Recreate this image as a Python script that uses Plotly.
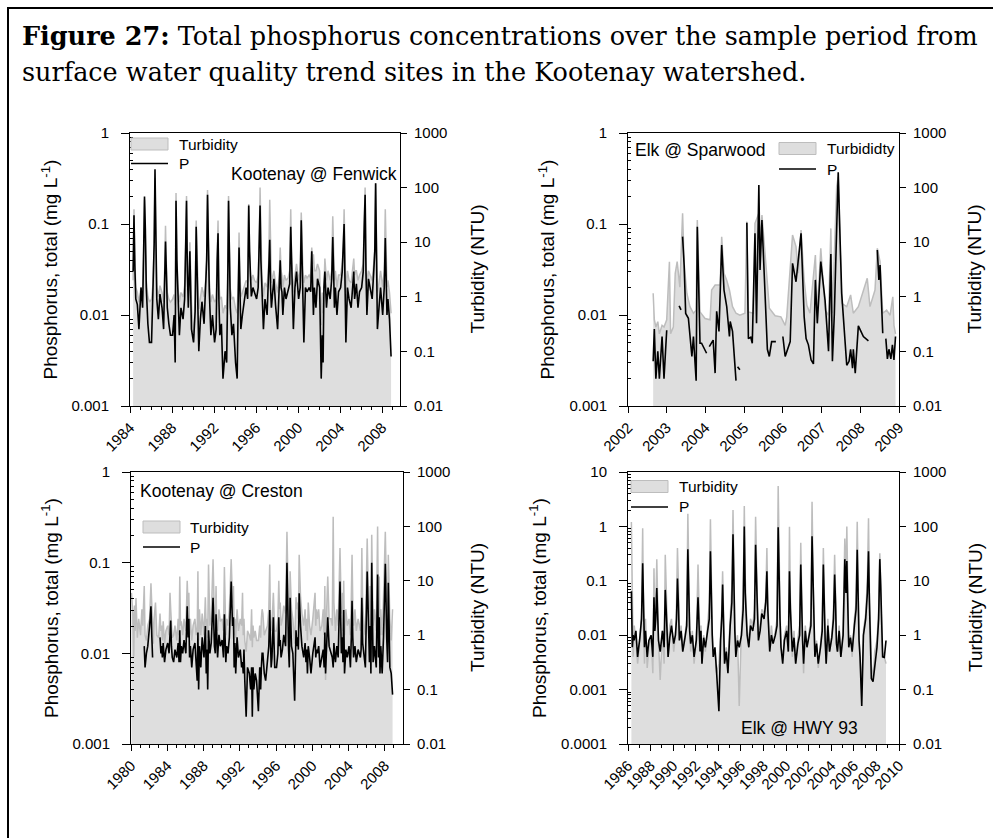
import math
import plotly.graph_objects as go

W, H = 993, 838

# ---------------------------------------------------------------- data
SAMPLE_FRACTIONS = [0.05, 0.20, 0.30, 0.38, 0.46, 0.55, 0.70, 0.85]

# --- Kootenay @ Fenwick (8 samples per year, 1984-2008)
fenwick_years = list(range(1984, 2009))
fenwick_p = [
    None, None, 0.030, 0.125, 0.035, 0.015, 0.013, 0.007,
    0.020, 0.012, 0.050, 0.200, 0.090, 0.020, 0.008, 0.005,
    0.005, 0.020, 0.060, 0.400, 0.040, 0.015, 0.009, 0.017,
    0.012, 0.007, 0.025, 0.064, 0.030, 0.012, 0.008, 0.006,
    0.006, 0.010, 0.003, 0.180, 0.040, 0.015, 0.006, 0.012,
    0.009, 0.015, 0.050, 0.180, 0.030, 0.012, 0.050, 0.007,
    0.005, 0.011, 0.093, 0.030, 0.018, 0.004, 0.009, 0.014,
    0.008, 0.020, 0.040, 0.210, 0.060, 0.018, 0.006, 0.010,
    0.005, 0.007, 0.040, 0.079, 0.015, 0.006, 0.008, 0.002,
    0.004, 0.003, 0.020, 0.180, 0.050, 0.012, 0.006, 0.008,
    0.003, 0.002, 0.015, 0.055, 0.020, 0.007, 0.010, 0.013,
    0.020, 0.015, 0.160, 0.050, 0.020, 0.016, 0.020, 0.018,
    0.015, 0.020, 0.060, 0.160, 0.040, 0.020, 0.007, 0.015,
    0.010, 0.030, 0.067, 0.020, 0.012, 0.016, 0.025, 0.013,
    0.007, 0.020, 0.040, 0.020, 0.018, 0.010, 0.020, 0.015,
    0.018, 0.022, 0.093, 0.030, 0.016, 0.007, 0.020, 0.030,
    0.015, 0.020, 0.110, 0.040, 0.020, 0.005, 0.020, 0.018,
    0.020, 0.018, 0.050, 0.015, 0.010, 0.020, 0.012, 0.025,
    0.020, 0.002, 0.006, 0.003, 0.020, 0.030, 0.012, 0.020,
    0.015, 0.025, 0.072, 0.030, 0.012, 0.020, 0.010, 0.018,
    0.020, 0.030, 0.050, 0.100, 0.025, 0.005, 0.020, 0.015,
    0.012, 0.020, 0.030, 0.015, 0.020, 0.022, 0.012, 0.018,
    0.020, 0.030, 0.100, 0.210, 0.030, 0.010, 0.025, 0.020,
    0.015, 0.030, 0.050, 0.280, 0.020, 0.007, 0.012, 0.020,
    0.010, 0.020, 0.070, 0.025, 0.010, 0.015, 0.009, 0.0035,
]
fenwick_turb = [
    None, None, 2.0, 40, 5.0, 1.5, 1.2, 0.8,
    1.5, 1.0, 8.0, 60, 12, 2.0, 1.0, 0.8,
    0.9, 1.8, 10, 150, 8.0, 1.5, 1.0, 1.6,
    1.2, 0.8, 3.0, 20, 4.0, 1.2, 0.9, 0.8,
    0.9, 1.1, 0.7, 80, 6.0, 1.6, 0.8, 1.2,
    1.0, 1.6, 8.0, 70, 4.0, 1.3, 10, 0.8,
    0.15, 1.2, 25, 4.0, 2.0, 0.6, 1.0, 1.5,
    1.0, 2.0, 6.0, 90, 10, 2.0, 0.8, 1.1,
    0.8, 0.9, 6.0, 25, 2.0, 0.9, 1.0, 0.5,
    0.7, 0.6, 3.0, 70, 8.0, 1.4, 0.9, 1.0,
    0.6, 0.5, 2.0, 15, 3.0, 1.0, 1.2, 1.5,
    2.0, 1.8, 50, 8.0, 2.5, 2.0, 2.5, 2.0,
    1.8, 2.5, 10, 100, 6.0, 2.5, 1.0, 1.8,
    1.5, 4.0, 60, 3.0, 1.8, 2.2, 3.0, 1.8,
    1.2, 2.5, 8.0, 3.0, 2.5, 1.5, 2.5, 2.0,
    2.2, 3.0, 40, 5.0, 2.0, 1.2, 2.5, 4.0,
    2.0, 3.0, 35, 6.0, 3.0, 1.8, 2.5, 2.2,
    2.5, 2.2, 8.0, 4.0, 6.0, 3.0, 3.0, 4.0,
    3.0, 0.3, 1.2, 0.5, 3.0, 5.0, 2.0, 3.0,
    2.0, 3.0, 30, 5.0, 2.0, 3.0, 1.5, 2.5,
    2.5, 4.0, 8.0, 40, 4.0, 1.2, 3.0, 2.0,
    1.8, 3.0, 5.0, 2.5, 3.0, 3.0, 2.0, 2.5,
    3.0, 4.0, 25, 100, 5.0, 1.6, 3.0, 2.5,
    2.0, 4.0, 8.0, 120, 3.0, 1.2, 1.8, 3.0,
    1.5, 3.0, 40, 4.0, 1.5, 2.0, 1.2, 0.5,
]

# --- Elk @ Sparwood (irregular sample dates, gaps = None)
sparwood_p_dates = [
    2002.65, 2002.68, 2002.72, 2002.77, 2002.81, 2002.88, 2002.93, 2003.00, 2003.15,
    2003.32, 2003.37, 2003.39,
    2003.41, 2003.45, 2003.49, 2003.56, 2003.65, 2003.69, 2003.76, 2003.79, 2003.86,
    2003.90, 2004.03, 2004.06,
    2004.10, 2004.20, 2004.25, 2004.29, 2004.35, 2004.42, 2004.48, 2004.55, 2004.62,
    2004.64, 2004.70, 2004.79, 2004.81,
    2004.83, 2004.89, 2004.98,
    2005.07, 2005.11, 2005.17, 2005.21, 2005.28, 2005.32, 2005.38, 2005.41, 2005.46,
    2005.54, 2005.60, 2005.65, 2005.71, 2005.82, 2005.91,
    2006.00, 2006.06, 2006.19, 2006.25, 2006.34, 2006.47, 2006.55, 2006.60, 2006.66,
    2006.73, 2006.79, 2006.84, 2006.89, 2006.98, 2007.09, 2007.18, 2007.24, 2007.28,
    2007.33, 2007.43, 2007.48, 2007.52, 2007.65, 2007.71, 2007.75, 2007.80, 2007.82,
    2007.87, 2007.95, 2008.08, 2008.21, 2008.30,
    2008.44, 2008.48, 2008.51, 2008.58, 2008.62,
    2008.66, 2008.70, 2008.74, 2008.79, 2008.83, 2008.87, 2008.91,
]
sparwood_p = [
    0.0031, 0.0070, 0.0020, 0.0040, 0.0020, 0.0058, 0.0020, 0.0068, None,
    0.0126, 0.0114, None,
    0.0726, 0.0354, 0.0104, 0.0092, 0.0035, 0.0058, 0.0019, 0.0935, 0.0049,
    0.0049, 0.0038, None,
    0.0045, 0.0053, 0.0023, 0.0110, 0.0066, 0.0588, 0.0188, 0.0124, 0.0058,
    0.0085, 0.0066, 0.0019, None,
    0.0027, 0.0025, None,
    0.1035, 0.0055, 0.0057, 0.0049, 0.0789, 0.0081, 0.268, 0.0313, 0.1106,
    0.0173, 0.0042, 0.0035, 0.0051, 0.0051, None,
    0.0058, 0.0035, 0.0051, 0.0370, 0.0232, 0.0789, 0.0096, 0.0055, 0.0047,
    0.0032, 0.0029, 0.0243, 0.0081, 0.0386, 0.0146, 0.0040, 0.0468, 0.0031,
    0.0104, 0.370, 0.0640, 0.0173, 0.0028, 0.0031, 0.0042, 0.0026, 0.0042,
    0.0023, 0.0076, 0.0058, 0.0052, None,
    0.0518, 0.0243, 0.0354, 0.0063, None,
    0.0055, 0.0033, 0.0042, 0.0033, 0.0047, 0.0032, 0.0058,
]
sparwood_turb_dates = [
    2002.65, 2002.68, 2002.72, 2002.77, 2002.81, 2002.88, 2002.93, 2003.00, 2003.07,
    2003.10, 2003.17, 2003.22, 2003.27, 2003.32, 2003.34, 2003.41, 2003.45, 2003.52,
    2003.60, 2003.69, 2003.76, 2003.79, 2003.86, 2003.99, 2004.12, 2004.16, 2004.25,
    2004.38, 2004.42, 2004.48, 2004.55, 2004.62, 2004.70, 2004.79, 2004.89, 2005.02,
    2005.07, 2005.11, 2005.24, 2005.28, 2005.38, 2005.41, 2005.46, 2005.58, 2005.65,
    2005.80, 2005.95, 2006.06, 2006.10, 2006.25, 2006.34, 2006.40, 2006.47, 2006.55,
    2006.62, 2006.70, 2006.84, 2006.89, 2006.98, 2007.09, 2007.18, 2007.24, 2007.28,
    2007.39, 2007.43, 2007.52, 2007.65, 2007.75, 2007.82, 2007.95, 2008.08, 2008.18,
    2008.25, 2008.38, 2008.44, 2008.51, 2008.58, 2008.68, 2008.77, 2008.84, 2008.87,
    2008.91,
]
sparwood_turb = [
    1.16, 0.38, 0.28, 0.35, 0.21, 0.30, 0.28, 0.38, 4.4,
    0.21, 0.28, 2.7, 4.4, 1.6, 1.5, 34, 4.1, 1.16,
    0.66, 0.50, 0.57, 25.5, 0.53, 0.40, 0.38, 1.33, 1.64,
    1.64, 12.6, 2.7, 2.0, 1.33, 0.66, 0.50, 0.46, 0.50,
    23.8, 0.53, 0.50, 22.2, 33.8, 11, 31.5, 2.7, 0.62,
    0.45, 0.43, 0.30, 0.43, 13.5, 8.3, 2.7, 16.7, 2.0,
    0.70, 0.50, 5.8, 0.50, 7.7, 0.57, 0.46, 17.9, 0.50,
    104, 158, 0.76, 0.66, 1.08, 0.50, 0.66, 1.33, 2.18,
    0.66, 1.33, 7.7, 4.4, 0.50, 0.57, 0.46, 1.0, 0.30,
    0.21,
]

# --- Kootenay @ Creston (8 samples per year, 1980-2008)
creston_years = list(range(1980, 2009))
creston_p = [
    None, None, None, None, None, None, None, None,
    None, None, None, None, 0.012, 0.007, 0.010, 0.012,
    0.020, 0.033, 0.015, 0.009, None, None, None, None,
    None, 0.015, 0.010, 0.012, 0.009, 0.013, 0.008, 0.011,
    0.013, 0.010, 0.016, 0.023, 0.012, 0.009, 0.008, 0.011,
    0.009, 0.013, 0.008, 0.018, 0.008, 0.012, 0.010, 0.014,
    0.010, 0.033, 0.015, 0.024, 0.009, 0.012, 0.007, 0.011,
    0.013, 0.008, 0.005, 0.017, 0.004, 0.012, 0.007, 0.015,
    0.009, 0.020, 0.006, 0.011, 0.004, 0.018, 0.010, 0.013,
    0.041, 0.012, 0.010, 0.027, 0.013, 0.009, 0.016, 0.012,
    0.014, 0.009, 0.027, 0.016, 0.008, 0.012, 0.010, 0.015,
    0.062, 0.020, 0.025, 0.007, 0.013, 0.006, 0.015, 0.009,
    0.011, 0.007, 0.008, 0.006, 0.011, 0.005, 0.002, 0.007,
    0.006, 0.004, 0.007, 0.002, 0.007, 0.004, 0.006, 0.005,
    0.0023, 0.007, 0.004, 0.007, 0.010, 0.010, 0.006, 0.005,
    0.008, 0.012, 0.030, 0.011, 0.007, 0.009, 0.025, 0.007,
    0.007, 0.010, 0.025, 0.012, 0.014, 0.009, 0.011, 0.016,
    0.012, 0.100, 0.020, 0.011, 0.007, 0.041, 0.012, 0.010,
    0.003, 0.018, 0.012, 0.015, 0.011, 0.046, 0.020, 0.012,
    0.009, 0.013, 0.008, 0.011, 0.006, 0.012, 0.009, 0.006,
    0.010, 0.013, 0.015, 0.009, 0.011, 0.010, 0.012, 0.007,
    0.009, 0.011, 0.007, 0.017, 0.006, 0.011, 0.025, 0.012,
    0.010, 0.009, 0.007, 0.013, 0.010, 0.008, 0.012, 0.009,
    0.062, 0.010, 0.015, 0.008, 0.030, 0.006, 0.011, 0.009,
    0.012, 0.007, 0.015, 0.038, 0.015, 0.009, 0.012, 0.008,
    0.011, 0.010, 0.009, 0.011, 0.041, 0.013, 0.009, 0.007,
    0.080, 0.015, 0.008, 0.020, 0.006, 0.100, 0.008, 0.012,
    0.007, 0.074, 0.009, 0.025, 0.006, 0.012, 0.006, 0.015,
    0.097, 0.015, 0.008, 0.060, 0.012, 0.007, 0.006, 0.0035,
]
creston_turb = [
    6.0, 2.5, 0.4, 3.5, 1.2, 4.8, 0.9, 2.0,
    1.0, 3.0, 1.5, 4.0, 8.0, 1.0, 0.8, 1.5,
    2.0, 9.0, 3.0, 1.2, 0.7, 2.0, 4.0, 1.0,
    0.9, 2.5, 1.2, 1.5, 0.8, 1.8, 0.7, 1.2,
    1.5, 1.0, 6.0, 3.0, 1.2, 0.9, 1.0, 1.5,
    0.8, 2.0, 1.0, 12, 1.5, 1.8, 1.0, 2.0,
    1.2, 10, 3.0, 6.0, 1.0, 2.0, 0.8, 1.5,
    2.0, 1.0, 1.2, 15, 0.8, 3.0, 1.0, 2.5,
    1.0, 5.0, 1.2, 2.0, 0.9, 20, 1.5, 2.0,
    25, 2.0, 1.5, 8.0, 1.5, 1.2, 3.0, 1.8,
    2.0, 1.2, 18, 3.0, 1.0, 2.0, 1.5, 3.0,
    25, 4.0, 8.0, 1.0, 2.0, 0.9, 3.0, 1.2,
    2.0, 1.5, 6.0, 1.0, 2.0, 0.8, 0.5, 1.2,
    1.0, 0.8, 3.0, 0.6, 1.5, 0.9, 1.2, 0.8,
    0.8, 1.5, 0.9, 2.0, 3.0, 2.5, 1.0, 1.2,
    1.5, 3.0, 20, 2.0, 1.2, 1.5, 6.0, 1.2,
    1.2, 2.0, 10, 3.0, 4.0, 1.5, 2.0, 3.5,
    2.5, 80, 6.0, 2.5, 1.2, 15, 3.0, 2.0,
    0.7, 5.0, 3.0, 4.0, 2.0, 30, 5.0, 2.5,
    1.5, 3.0, 1.2, 2.0, 0.8, 4.0, 1.5, 1.0,
    2.0, 4.0, 6.0, 1.5, 3.0, 2.0, 3.0, 1.2,
    1.5, 3.0, 1.0, 8.0, 0.15, 2.0, 12, 2.0,
    2.0, 1.5, 150, 4.0, 1.5, 1.2, 3.0, 1.5,
    40, 2.5, 6.0, 1.2, 10, 1.0, 3.0, 1.5,
    2.0, 1.0, 5.0, 30, 4.0, 1.5, 3.0, 1.2,
    2.0, 1.5, 1.2, 3.0, 40, 4.0, 1.5, 1.0,
    60, 4.0, 1.5, 8.0, 1.0, 70, 1.5, 3.0,
    1.2, 100, 1.5, 12, 1.0, 3.0, 1.0, 5.0,
    80, 4.0, 1.5, 30, 3.0, 2.0, 0.8, 3.0,
]

# --- Elk @ HWY 93 (8 samples per year, 1986-2008)
hwy93_years = list(range(1986, 2009))
hwy93_p = [
    None, None, 0.064, 0.006, 0.010, 0.008, 0.012, 0.004,
    0.009, 0.020, 0.210, 0.015, 0.006, 0.012, 0.004, 0.008,
    0.010, 0.004, 0.050, 0.012, 0.020, 0.074, 0.008, 0.005,
    0.012, 0.006, 0.068, 0.030, 0.010, 0.004, 0.009, 0.015,
    0.007, 0.010, 0.020, 0.110, 0.040, 0.008, 0.012, 0.005,
    0.009, 0.015, 0.380, 0.030, 0.012, 0.007, 0.010, 0.004,
    0.008, 0.050, 0.015, 0.005, 0.012, 0.003, 0.009, 0.006,
    0.012, 0.020, 0.350, 0.040, 0.010, 0.004, 0.006, 0.002,
    0.0004, 0.008, 0.020, 0.085, 0.010, 0.003, 0.005, 0.002,
    0.015, 0.040, 0.720, 0.050, 0.012, 0.004, 0.008, 0.006,
    0.010, 0.030, 1.000, 0.060, 0.020, 0.010, 0.006, 0.015,
    0.012, 0.020, 0.460, 0.050, 0.030, 0.008, 0.012, 0.025,
    0.020, 0.040, 0.150, 0.030, 0.008, 0.005, 0.010, 0.007,
    0.010, 0.015, 0.960, 0.100, 0.020, 0.006, 0.003, 0.008,
    0.012, 0.005, 0.150, 0.030, 0.010, 0.005, 0.009, 0.003,
    0.007, 0.010, 0.200, 0.020, 0.008, 0.003, 0.012, 0.006,
    0.010, 0.015, 0.660, 0.080, 0.010, 0.004, 0.007, 0.003,
    0.006, 0.012, 0.200, 0.030, 0.008, 0.003, 0.015, 0.005,
    0.009, 0.020, 0.130, 0.040, 0.007, 0.005, 0.012, 0.004,
    0.010, 0.250, 0.060, 0.230, 0.015, 0.006, 0.009, 0.005,
    0.015, 0.030, 0.370, 0.050, 0.008, 0.004, 0.0005, 0.010,
    0.020, 0.060, 0.350, 0.040, 0.012, 0.0016, 0.0014, 0.003,
    0.006, 0.020, 0.250, 0.080, 0.010, 0.004, 0.0039, 0.008,
]
hwy93_turb = [
    None, None, 120, 1.0, 0.4, 1.5, 0.8, 0.3,
    0.8, 2.5, 92, 1.5, 0.3, 2.0, 0.25, 0.6,
    1.0, 0.2, 17, 2.0, 3.0, 25, 0.8, 0.15,
    1.2, 0.3, 30, 8.0, 1.0, 0.4, 1.5, 2.0,
    0.5, 1.0, 4.0, 40, 10, 0.8, 1.5, 0.6,
    1.0, 2.0, 170, 6.0, 1.5, 0.5, 1.2, 0.3,
    0.8, 20, 3.0, 0.6, 1.5, 0.3, 1.0, 0.5,
    1.5, 4.0, 135, 8.0, 1.2, 0.4, 0.5, 0.2,
    0.3, 1.0, 3.0, 15, 1.5, 0.4, 0.6, 0.3,
    2.0, 8.0, 200, 10, 1.5, 0.6, 1.0, 0.05,
    1.5, 5.0, 236, 12, 3.0, 1.2, 0.8, 2.0,
    1.5, 3.0, 150, 10, 4.0, 1.0, 1.5, 3.0,
    2.5, 5.0, 40, 4.0, 1.0, 0.6, 1.5, 0.7,
    1.2, 2.0, 550, 20, 3.0, 0.6, 0.4, 1.0,
    1.5, 0.5, 98, 5.0, 1.5, 0.4, 1.2, 0.3,
    0.9, 1.5, 50, 3.0, 1.0, 0.2, 1.5, 0.6,
    1.2, 2.0, 284, 15, 1.5, 0.4, 0.8, 0.25,
    0.7, 1.5, 40, 4.0, 1.0, 0.3, 2.0, 0.5,
    1.0, 3.0, 30, 6.0, 0.8, 0.5, 1.5, 0.4,
    1.2, 60, 10, 100, 2.0, 0.6, 1.0, 0.4,
    2.0, 4.0, 122, 8.0, 1.0, 0.4, 0.1, 1.2,
    2.5, 10, 141, 6.0, 1.5, 0.3, 0.15, 0.5,
    0.8, 3.0, 32, 10, 1.2, 0.5, 0.4, 0.3,
]

# --- tick labels
fenwick_xticks = ["1984", "1988", "1992", "1996", "2000", "2004", "2008"]
sparwood_xticks = ["2002", "2003", "2004", "2005", "2006", "2007", "2008", "2009"]
creston_xticks = ["1980", "1984", "1988", "1992", "1996", "2000", "2004", "2008"]
hwy93_xticks = ["1986", "1988", "1990", "1992", "1994", "1996", "1998", "2000",
                "2002", "2004", "2006", "2008", "2010"]
p_ticks_3dec = ["0.001", "0.01", "0.1", "1"]
p_ticks_5dec = ["0.0001", "0.001", "0.01", "0.1", "1", "10"]
turb_ticks = ["0.01", "0.1", "1", "10", "100", "1000"]

TITLE_LINE1 = "<b>Figure 27:</b> Total phosphorus concentrations over the sample period from"
TITLE_LINE2 = "surface water quality trend sites in the Kootenay watershed."
P_TITLE = "Phosphorus, total (mg L<sup>-1</sup>)"
T_TITLE = "Turbidity (NTU)"

# ---------------------------------------------------------------- helpers
SANS = "Liberation Sans, Arial, sans-serif"
FILL_COLOR = "#dedede"
TURB_LINE = "#bdbdbd"


def fx(px):
    return px / W


def fy(py):
    return 1 - py / H


def grid_dates(years):
    return [y + f for y in years for f in SAMPLE_FRACTIONS]


def minor_log(labels):
    vals = [float(s) for s in labels]
    out = []
    for v in vals[:-1]:
        out += [v * m for m in range(2, 10)]
    return out


panels = [
    dict(px=(130, 400), py=(133, 406), xrange=[1984, 2009.7], xt=fenwick_xticks,
         xminor=list(range(1985, 2010)),
         xp=grid_dates(fenwick_years), p=fenwick_p,
         xt_=grid_dates(fenwick_years), turb=fenwick_turb,
         pticks=p_ticks_3dec, tname="Turbidity",
         leg=dict(x=131, y1=144, y2=163.5, tx=177),
         label=dict(text="Kootenay @ Fenwick", x=399, y=174, xanchor="right"),
         ptitle_x=50, ttitle_x=477),
    dict(px=(628, 899), py=(133, 406), xrange=[2002, 2009], xt=sparwood_xticks,
         xminor=[],
         xp=sparwood_p_dates, p=sparwood_p,
         xt_=sparwood_turb_dates, turb=sparwood_turb,
         pticks=p_ticks_3dec, tname="Turbididty",
         leg=dict(x=779, y1=148.5, y2=169, tx=825),
         label=dict(text="Elk @ Sparwood", x=633, y=150, xanchor="left"),
         ptitle_x=547, ttitle_x=974),
    dict(px=(131, 403), py=(472, 744), xrange=[1980, 2010], xt=creston_xticks,
         xminor=list(range(1981, 2010)),
         xp=grid_dates(creston_years), p=creston_p,
         xt_=grid_dates(creston_years), turb=creston_turb,
         pticks=p_ticks_3dec, tname="Turbidity",
         leg=dict(x=143, y1=527, y2=547, tx=188),
         label=dict(text="Kootenay @ Creston", x=138, y=491, xanchor="left"),
         ptitle_x=50, ttitle_x=477),
    dict(px=(628, 899), py=(472, 744), xrange=[1986, 2010], xt=hwy93_xticks,
         xminor=list(range(1987, 2010, 2)),
         xp=grid_dates(hwy93_years), p=hwy93_p,
         xt_=grid_dates(hwy93_years), turb=hwy93_turb,
         pticks=p_ticks_5dec, tname="Turbidity",
         leg=dict(x=631, y1=486.5, y2=507, tx=677),
         label=dict(text="Elk @ HWY 93", x=739, y=728, xanchor="left"),
         ptitle_x=538, ttitle_x=975),
]

fig = go.Figure()
layout = dict(
    width=W, height=H, autosize=False,
    margin=dict(l=0, r=0, t=0, b=0, pad=0, autoexpand=False),
    paper_bgcolor="white", plot_bgcolor="white",
    font=dict(family=SANS, size=15, color="black"),
    showlegend=False,
    annotations=[], shapes=[],
)

tickfont = dict(family=SANS, size=15, color="black")

for k, pn in enumerate(panels, start=1):
    xkey = "xaxis" if k == 1 else f"xaxis{k}"
    xref = "x" if k == 1 else f"x{k}"
    tid, pid = 2 * k - 1, 2 * k
    tkey = "yaxis" if tid == 1 else f"yaxis{tid}"
    tref = "y" if tid == 1 else f"y{tid}"
    pkey = f"yaxis{pid}"
    pref = f"y{pid}"

    x0, x1 = pn["px"]
    y0, y1 = pn["py"]

    layout[xkey] = dict(
        domain=[fx(x0), fx(x1)], anchor=tref, range=pn["xrange"], automargin=False,
        tickmode="array", tickvals=[float(s) for s in pn["xt"]], ticktext=pn["xt"],
        tickangle=-45, ticks="outside", ticklen=6, tickwidth=1, tickcolor="black",
        showline=True, linecolor="black", linewidth=1, mirror=True,
        showgrid=False, zeroline=False, tickfont=tickfont,
        minor=dict(tickvals=pn["xminor"], ticks="outside", ticklen=3,
                   tickcolor="black", showgrid=False),
    )
    layout[tkey] = dict(
        domain=[fy(y1), fy(y0)], anchor=xref, side="right", type="log",
        range=[-2, 3], automargin=False, tickmode="array",
        tickvals=[float(s) for s in turb_ticks], ticktext=turb_ticks,
        ticks="outside", ticklen=6, tickcolor="black",
        showline=True, linecolor="black", linewidth=1,
        showgrid=False, zeroline=False, tickfont=tickfont,
        ticklabelstandoff=4,
    )
    pvals = [float(s) for s in pn["pticks"]]
    layout[pkey] = dict(
        overlaying=tref, anchor=xref, side="left", type="log", automargin=False,
        range=[math.log10(pvals[0]), math.log10(pvals[-1])],
        tickmode="array", tickvals=pvals, ticktext=pn["pticks"],
        ticks="outside", ticklen=8, tickcolor="black",
        showline=True, linecolor="black", linewidth=1,
        showgrid=False, zeroline=False, tickfont=tickfont,
        ticklabelstandoff=9,
        minor=dict(tickvals=minor_log(pn["pticks"]), ticks="inside", ticklen=3,
                   tickcolor="black", showgrid=False),
    )

    fig.add_trace(go.Scatter(
        x=pn["xt_"], y=pn["turb"], xaxis=xref, yaxis=tref, mode="lines",
        line=dict(color=TURB_LINE, width=1.5), fill="tozeroy", fillcolor=FILL_COLOR,
        name=pn["tname"], connectgaps=False,
    ))
    fig.add_trace(go.Scatter(
        x=pn["xp"], y=pn["p"], xaxis=xref, yaxis=pref, mode="lines",
        line=dict(color="black", width=1.6), name="P", connectgaps=False,
    ))

    # legend (patch + line + labels)
    lg = pn["leg"]
    layout["shapes"].append(dict(
        type="rect", xref="paper", yref="paper",
        x0=fx(lg["x"]), x1=fx(lg["x"] + 37), y0=fy(lg["y1"] - 6), y1=fy(lg["y1"] + 6),
        fillcolor=FILL_COLOR, line=dict(color=TURB_LINE, width=1),
    ))
    layout["shapes"].append(dict(
        type="line", xref="paper", yref="paper",
        x0=fx(lg["x"]), x1=fx(lg["x"] + 37), y0=fy(lg["y2"]), y1=fy(lg["y2"]),
        line=dict(color="black", width=1.6),
    ))
    for txt, yy in [(pn["tname"], lg["y1"]), ("P", lg["y2"])]:
        layout["annotations"].append(dict(
            text=txt, x=fx(lg["tx"]), y=fy(yy), xref="paper", yref="paper",
            xanchor="left", yanchor="middle", showarrow=False,
            font=dict(family=SANS, size=15.5, color="black"),
        ))

    lb = pn["label"]
    layout["annotations"].append(dict(
        text=lb["text"], x=fx(lb["x"]), y=fy(lb["y"]), xref="paper", yref="paper",
        xanchor=lb["xanchor"], yanchor="middle", showarrow=False,
        font=dict(family=SANS, size=17.5, color="black"),
    ))
    ymid = (y0 + y1) / 2
    layout["annotations"].append(dict(
        text=P_TITLE, x=fx(pn["ptitle_x"]), y=fy(ymid), xref="paper", yref="paper",
        xanchor="center", yanchor="middle", textangle=-90, showarrow=False,
        font=dict(family=SANS, size=19, color="black"),
    ))
    layout["annotations"].append(dict(
        text=T_TITLE, x=fx(pn["ttitle_x"]), y=fy(ymid), xref="paper", yref="paper",
        xanchor="center", yanchor="middle", textangle=-90, showarrow=False,
        font=dict(family=SANS, size=19, color="black"),
    ))

# figure title
for txt, ycen in [(TITLE_LINE1, 36), (TITLE_LINE2, 72)]:
    layout["annotations"].append(dict(
        text=txt, x=fx(20), y=fy(ycen), xref="paper", yref="paper",
        xanchor="left", yanchor="middle", showarrow=False,
        font=dict(family="DejaVu Serif, serif", size=25.5, color="black"),
    ))

# outer frame
layout["shapes"].append(dict(
    type="rect", xref="paper", yref="paper",
    x0=fx(8), x1=fx(1010), y0=fy(8), y1=fy(900),
    line=dict(color="black", width=2), fillcolor="rgba(0,0,0,0)",
))

fig.update_layout(**layout)
fig.write_html("out.html")
